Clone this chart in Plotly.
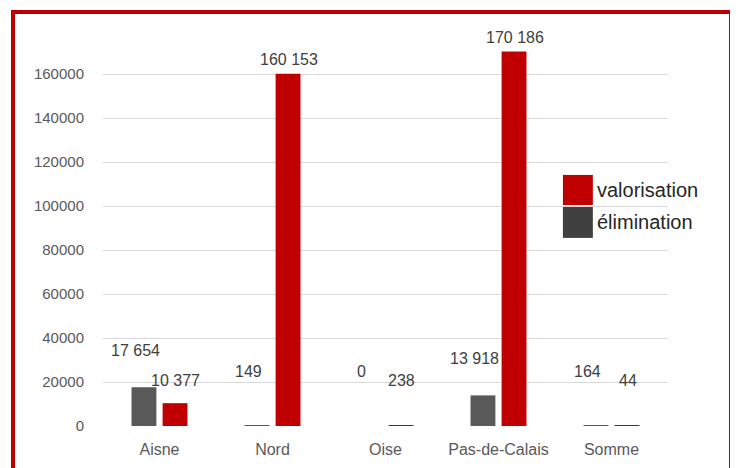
import plotly.graph_objects as go

categories = ["Aisne", "Nord", "Oise", "Pas-de-Calais", "Somme"]
elimination = [17654, 149, 0, 13918, 164]
valorisation = [10377, 160153, 238, 170186, 44]
y_ticks = [0, 20000, 40000, 60000, 80000, 100000, 120000, 140000, 160000]

RED = "#C00000"
GRAY = "#595959"
FONT = "Liberation Sans, Arial, sans-serif"


def fmt(v):
    return f"{v:,}".replace(",", " ")


fig = go.Figure()
fig.add_trace(go.Bar(
    name="élimination", x=categories, y=elimination,
    marker=dict(color=GRAY, line=dict(width=0)), showlegend=False,
))
fig.add_trace(go.Bar(
    name="valorisation", x=categories, y=valorisation,
    marker=dict(color=RED, line=dict(width=0)), showlegend=False,
))

# data labels (Excel-style, offset from the bars; tiny bars get lifted labels)
for vals, xs, ys, floor in [(elimination, -24, 26, 8000), (valorisation, 16, 4, 14000)]:
    for cat, v in zip(categories, vals):
        fig.add_annotation(x=cat, y=max(v, floor), xref="x", yref="y",
                           text=fmt(v), showarrow=False, xanchor="center",
                           yanchor="bottom", xshift=xs, yshift=ys,
                           font=dict(size=16, color="#404040", family=FONT))

# page body has an 8px margin: plot area lands at x 103..668, y 30..426
fig.update_layout(
    width=738, height=468,
    margin=dict(l=95, r=78, t=22, b=50),
    paper_bgcolor="white", plot_bgcolor="white",
    barmode="group", bargap=0.45, bargroupgap=0.2,
    font=dict(family=FONT, color=GRAY, size=15),
    xaxis=dict(showgrid=False, showline=False, ticks="", zeroline=False,
               ticklabelstandoff=12,
               tickfont=dict(size=16, color=GRAY)),
    yaxis=dict(range=[0, 180000], tickvals=y_ticks, ticktext=[str(v) for v in y_ticks],
               showgrid=True, gridcolor="#D9D9D9", gridwidth=1, zeroline=False,
               showline=False, ticks="", ticklabelstandoff=18,
               tickfont=dict(size=15, color=GRAY)),
)

# red frame around the chart
fig.add_shape(type="rect", xref="paper", yref="paper",
              x0=-0.1593, x1=1.1115, y0=-0.16, y1=1.0455,
              line=dict(color=RED, width=4), fillcolor="rgba(0,0,0,0)", layer="above")

# custom legend with large swatches
leg = [("valorisation", RED, 0.634, 0.558), ("élimination", "#404040", 0.553, 0.475)]
for name, col, ytop, ybot in leg:
    fig.add_shape(type="rect", xref="paper", yref="paper",
                  x0=0.814, x1=0.867, y0=ybot, y1=ytop,
                  line=dict(width=0), fillcolor=col)
    fig.add_annotation(xref="paper", yref="paper", x=0.870, y=(ytop + ybot) / 2,
                       text=name, showarrow=False, xanchor="left", yanchor="middle",
                       font=dict(size=20, color="#262626", family=FONT))

fig.write_html("out.html")
